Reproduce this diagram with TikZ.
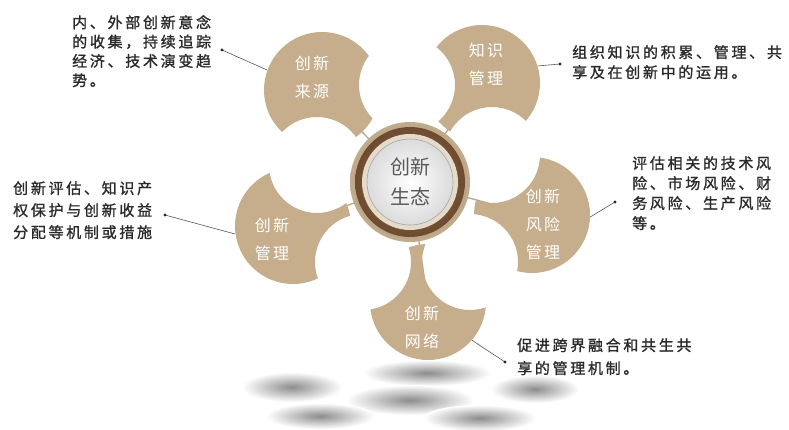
\documentclass[tikz,border=0pt]{standalone}
\usepackage{fontspec}
\newfontfamily\cjk{Noto Sans CJK SC}
\newfontfamily\cjkann[LetterSpace=18,FakeBold=1.2]{Noto Sans CJK SC}
\newfontfamily\cjkpet[LetterSpace=14]{Noto Sans CJK SC}
\definecolor{petal}{HTML}{C6AE8C}
\definecolor{stemc}{HTML}{B5A68E}
\definecolor{ann}{HTML}{2A2A2A}
\definecolor{ringdark}{HTML}{6E4B2E}
\definecolor{ringout}{HTML}{C2AC8E}
\definecolor{ringlight}{HTML}{E6DACA}
\tikzset{
  shadowell/.style={inner color=black!45, outer color=white},
  stemline/.style={draw=stemc, line width=1.3pt},
  petalbox/.style={circle, minimum size=116pt, inner sep=0pt},
  annline/.style={draw=ann!80, line width=0.6pt},
  anndot/.style={fill=ann},
  anntext/.style={anchor=north west, inner sep=0pt, align=left, text=ann},
  petaltext/.style={text=white, align=center, inner sep=0pt, font=\cjkpet\fontsize{16}{28}\selectfont},
}
\begin{document}
\begin{tikzpicture}[x=1pt,y=-1pt]
\useasboundingbox (0,0) rectangle (789,430);
\fill[white] (0,0) rectangle (789,430);
% shadows
\shade[shadowell] (292,387) ellipse (50pt and 15pt);
\shade[shadowell] (427,373) ellipse (64pt and 13pt);
\shade[shadowell] (410,400) ellipse (64pt and 15pt);
\shade[shadowell] (320,416) ellipse (54pt and 13pt);
\shade[shadowell] (480,418) ellipse (56pt and 13pt);
\shade[shadowell] (535,389) ellipse (44pt and 14pt);
% centres
\coordinate (O) at (410,182);
\node[petalbox] (p1) at (322,90) {};
\node[petalbox] (p2) at (482,83) {};
\node[petalbox] (p3) at (532,215) {};
\node[petalbox] (p4) at (293,226) {};
\node[petalbox] (p5) at (428,302) {};
% stems
\foreach \p in {p1,p2,p3,p4,p5} \draw[stemline] (O) -- (\p.center);
% petals with bites
\begin{scope}[even odd rule]
\clip (0,0) rectangle (789,430)
  (407,85) circle (48pt) (492,155) circle (48pt) (470,262) circle (48pt)
  (363,262) circle (48pt) (317,165) circle (48pt);
\foreach \p in {p1,p2,p3,p4,p5} \fill[petal] (\p.center) circle (58pt);
\end{scope}
% centre circle
\shade[inner color=ringdark!70!ringout, outer color=ringout] (O) circle (60pt);
\shade[inner color=ringdark!80!white, outer color=ringdark] (O) circle (55pt);
\fill[ringlight] (O) circle (48pt);
\shade[inner color=white, outer color=black!14] (O) circle (43pt);
\draw[black!35, line width=0.6pt] (O) circle (43pt);
\node[text=black!65, align=center, font=\cjk\fontsize{20}{30}\selectfont] (ctext) at (O) {创新\\生态};
% petal texts
\node[petaltext] (pt1) at (312,77) {创新\\来源};
\node[petaltext] (pt2) at (486,64) {知识\\管理};
\node[petaltext] (pt3) at (543,224) {创新\\风险\\管理};
\node[petaltext] (pt4) at (272,239) {创新\\管理};
\node[petaltext] (pt5) at (422,327) {创新\\网络};
% annotations
\coordinate (d1) at (222,50);
\coordinate (d2) at (560,64);
\coordinate (d3) at (165,215);
\coordinate (d4) at (615,202);
\coordinate (d5) at (505,362);
\draw[annline] (d1) -- (p1.160);
\draw[annline] (d2) -- (p2.17);
\draw[annline] (d3) -- (p4.188);
\draw[annline] (d4) -- (p3.358);
\draw[annline] (d5) -- (p5.319);
\foreach \d in {d1,d2,d3,d4,d5} \fill[anndot] (\d) circle (1.6pt);
\node[anntext, font=\cjkann\fontsize{15}{19.3}\selectfont] (t1) at (72,15) {内、外部创新意念\\的收集，持续追踪\\经济、技术演变趋\\势。};
\node[anntext, font=\cjkann\fontsize{15}{20}\selectfont] (t2) at (572,45) {组织知识的积累、管理、共\\享及在创新中的运用。};
\node[anntext, font=\cjkann\fontsize{15}{22}\selectfont] (t3) at (13,181) {创新评估、知识产\\权保护与创新收益\\分配等机制或措施};
\node[anntext, font=\cjkann\fontsize{15}{20}\selectfont] (t4) at (632,156) {评估相关的技术风\\险、市场风险、财\\务风险、生产风险\\等。};
\node[anntext, font=\cjkann\fontsize{15}{23}\selectfont] (t5) at (517,338) {促进跨界融合和共生共\\享的管理机制。};
\end{tikzpicture}
\end{document}
